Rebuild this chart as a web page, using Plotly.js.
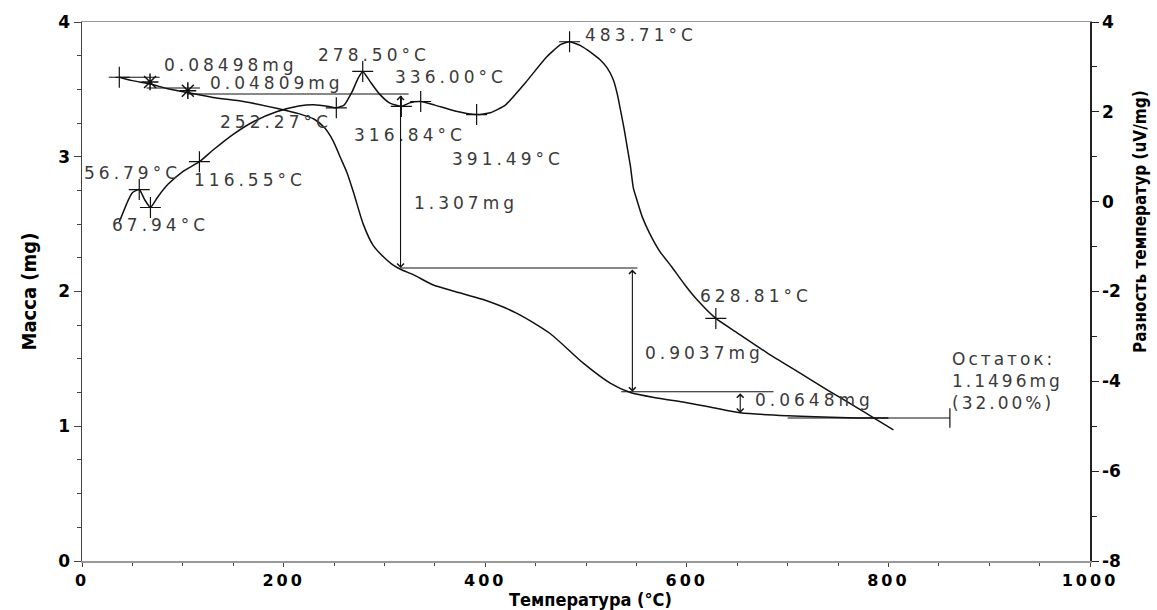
<!DOCTYPE html>
<html>
<head>
<meta charset="utf-8">
<script src="https://cdn.plot.ly/plotly-3.0.1.min.js"></script>
<style>
html,body{margin:0;padding:0;background:#fff;}
#chart{width:1157px;height:610px;}
</style>
</head>
<body>
<div id="chart"></div>
<script>
// ---- TG curve (mass, left axis) ----
var tgT    = [37, 50, 67.5, 85, 105, 130, 160, 193, 215, 230, 240, 249, 256, 263, 270, 279, 289, 300, 308, 316, 330, 348, 370, 398, 431, 464, 497, 524, 544, 570, 596, 625, 653, 700, 760, 800];
var tgMass = [3.59, 3.565, 3.54, 3.505, 3.475, 3.44, 3.41, 3.36, 3.32, 3.28, 3.22, 3.12, 3.0, 2.88, 2.72, 2.5, 2.34, 2.25, 2.2, 2.165, 2.12, 2.05, 2.0, 1.94, 1.84, 1.69, 1.47, 1.32, 1.25, 1.21, 1.18, 1.14, 1.1, 1.078, 1.064, 1.061];

// ---- DTA curve (right axis) ----
var dtaT = [37, 46, 50, 56.8, 62, 67.9, 75, 85, 100, 116.5, 130, 150, 170, 193, 215, 230, 245, 252.3, 260, 268, 274, 278.5, 285, 295, 305, 316.8, 325, 336, 350, 370, 391.5, 405, 420, 440, 460, 475, 483.7, 495, 505, 514, 521, 527, 531, 535, 538, 541, 544, 547, 551, 556, 563, 573, 585, 598, 610, 628.8, 650, 680, 712, 740, 770, 785, 805];
var dtaV = [-0.45, 0.04, 0.2, 0.27, 0.05, -0.13, 0.1, 0.38, 0.67, 0.89, 1.15, 1.5, 1.78, 2.0, 2.13, 2.16, 2.12, 2.09, 2.15, 2.45, 2.75, 2.9, 2.7, 2.4, 2.2, 2.12, 2.2, 2.23, 2.15, 2.02, 1.94, 1.98, 2.15, 2.65, 3.2, 3.5, 3.56, 3.47, 3.32, 3.16, 2.98, 2.72, 2.4, 1.95, 1.6, 1.2, 0.8, 0.3, 0.0, -0.35, -0.7, -1.1, -1.45, -1.85, -2.18, -2.6, -2.92, -3.37, -3.81, -4.2, -4.6, -4.81, -5.08];

// ---- DTA peak markers ----
var peakT = [56.8, 67.9, 116.5, 252.3, 278.5, 316.8, 336, 391.5, 483.7, 628.8];
var peakV = [0.27, -0.13, 0.89, 2.09, 2.9, 2.12, 2.23, 1.94, 3.56, -2.6];

// ---- TG step markers ----
var startT = [37];
var startMass = [3.59];
var starT = [67.5, 105];
var starMass = [3.555, 3.49];

// ---- TG reference (tangent) lines ----
var refT    = [33, 77, null, 64, 117, null, 104, 324, null, 316, 551, null, 535, 686, null, 700, 861];
var refMass = [3.59, 3.59, null, 3.51, 3.51, null, 3.466, 3.466, null, 2.174, 2.174, null, 1.256, 1.256, null, 1.061, 1.061];
var residueEndT = [861];
var residueEndMass = [1.061];

// ---- mass-loss arrows ----
var stepT      = [316, 546, 653];
var stepTop    = [3.466, 2.174, 1.256];
var stepBottom = [2.174, 1.256, 1.098];

// ---- text labels ----
var labelText = ['0.08498mg', '278.50°C', '0.04809mg', '336.00°C', '483.71°C', '252.27°C', '316.84°C', '391.49°C', '56.79°C', '116.55°C', '67.94°C', '1.307mg', '628.81°C', '0.9037mg', '0.0648mg'];
var labelT    = [79, 232, 125, 309, 497, 135, 268, 365, 0, 109, 28, 327, 611, 557, 666];
var labelMass = [3.68, 3.755, 3.55, 3.59, 3.90, 3.26, 3.16, 2.98, 2.88, 2.83, 2.49, 2.66, 1.97, 1.54, 1.195];
var residueLines = ['Остаток:', '1.1496mg', '(32.00%)'];
var residueT = 861, residueMass = 1.336;

// ---- axis ticks ----
var xTickVals = [0, 200, 400, 600, 800, 1000];
var xTickText = ['0', '200', '400', '600', '800', '1000'];
var yTickVals = [0, 1, 2, 3, 4];
var y2TickVals = [-8, -6, -4, -2, 0, 2, 4];
var y2TickText = ['-8', '-6', '-4', '-2', '0', '2', '4'];

var xTitle = 'Температура (°C)';
var yTitle = 'Масса (mg)';
var y2Title = 'Разность температур (uV/mg)';

function sp(t, s) { return '<span style="letter-spacing:' + s + 'px">' + t + '</span>'; }

var LINE = '#111';
var TXT = '#3a3a3a';
var LBLFONT = {family: 'DejaVu Sans, Liberation Sans, sans-serif', size: 17, color: TXT};
var AXFONT = {family: 'DejaVu Sans, Liberation Sans, sans-serif', size: 17, color: '#000', weight: 'bold'};
var XAXFONT = {family: 'DejaVu Sans, Liberation Sans, sans-serif', size: 16, color: '#000', weight: 'bold'};
var TITLEFONT = {family: 'Liberation Sans Narrow, DejaVu Sans Condensed, Liberation Sans, sans-serif', size: 20, color: '#000', weight: 'bold'};

var traces = [
  {x: tgT, y: tgMass, mode: 'lines', line: {color: LINE, width: 1.5, shape: 'spline', smoothing: 0.7}, yaxis: 'y', hoverinfo: 'skip'},
  {x: dtaT, y: dtaV, mode: 'lines', line: {color: LINE, width: 1.5, shape: 'spline', smoothing: 0.5}, yaxis: 'y2', hoverinfo: 'skip'},
  {x: refT, y: refMass, mode: 'lines', line: {color: LINE, width: 1.1}, yaxis: 'y', connectgaps: false, hoverinfo: 'skip'},
  {x: peakT, y: peakV, mode: 'markers', yaxis: 'y2', marker: {symbol: 'cross-thin-open', size: 15, color: LINE, line: {color: LINE, width: 1.2}}, hoverinfo: 'skip'},
  {x: startT, y: startMass, mode: 'markers', yaxis: 'y', marker: {symbol: 'cross-thin-open', size: 15, color: LINE, line: {color: LINE, width: 1.2}}, hoverinfo: 'skip'},
  {x: starT, y: starMass, mode: 'markers', yaxis: 'y', marker: {symbol: 'asterisk-open', size: 14, color: LINE, line: {color: LINE, width: 1.5}}, hoverinfo: 'skip'},
  {x: residueEndT, y: residueEndMass, mode: 'markers', yaxis: 'y', marker: {symbol: 'line-ns-open', size: 14, color: LINE, line: {color: LINE, width: 1.2}}, hoverinfo: 'skip'}
];

var annotations = [];
for (var i = 0; i < labelText.length; i++) {
  annotations.push({x: labelT[i], y: labelMass[i], xref: 'x', yref: 'y', text: sp(labelText[i], 4),
    showarrow: false, xanchor: 'left', yanchor: 'middle', font: LBLFONT});
}
annotations.push({x: residueT, y: residueMass, xref: 'x', yref: 'y',
  text: residueLines.map(function (s) { return sp(s, 3); }).join('<br>'),
  showarrow: false, xanchor: 'left', yanchor: 'middle', align: 'left', font: LBLFONT});
for (var j = 0; j < stepT.length; j++) {
  annotations.push({x: stepT[j], y: stepBottom[j], ax: stepT[j], ay: stepTop[j], xref: 'x', yref: 'y', axref: 'x', ayref: 'y',
    text: '', showarrow: true, arrowhead: 4, startarrowhead: 4, arrowside: 'end+start', arrowsize: 1.2, startarrowsize: 1.2,
    arrowwidth: 1.1, arrowcolor: LINE, standoff: 0, startstandoff: 0});
}
annotations.push({x: 1, y: (561 - 222) / 539, xref: 'paper', yref: 'paper', xshift: 50, text: y2Title, textangle: -90,
  showarrow: false, xanchor: 'center', yanchor: 'middle', font: {family: TITLEFONT.family, size: 17, color: '#000', weight: 'bold'}});
annotations.push({x: (590 - 82) / 1008, y: 0, xref: 'paper', yref: 'paper', yshift: -38, text: xTitle,
  showarrow: false, xanchor: 'center', yanchor: 'middle', font: {family: TITLEFONT.family, size: 18, color: '#000', weight: 'bold'}});

var layout = {
  width: 1157, height: 610,
  margin: {l: 82, r: 67, t: 22, b: 49},
  paper_bgcolor: '#fff', plot_bgcolor: '#fff',
  showlegend: false,
  xaxis: {
    range: [0, 1000], tickmode: 'array', tickvals: xTickVals, ticktext: xTickText.map(function (s) { return sp(s, 3); }),
    ticks: 'outside', ticklen: 4, tickcolor: '#444', showline: true, linecolor: '#999', linewidth: 1.5, mirror: true,
    showgrid: false, zeroline: false, tickfont: XAXFONT,
    minor: {dtick: 50, ticks: 'outside', ticklen: 3, tickcolor: '#444', showgrid: false}
  },
  yaxis: {
    range: [0, 4], tickvals: yTickVals, tickmode: 'array',
    ticks: 'outside', ticklen: 7, tickcolor: '#444', showline: true, linecolor: '#444', linewidth: 1.5,
    showgrid: false, zeroline: false, tickfont: AXFONT,
    minor: {dtick: 0.25, ticks: 'outside', ticklen: 4, tickcolor: '#444', showgrid: false},
    title: {text: yTitle, font: TITLEFONT, standoff: 16}
  },
  yaxis2: {
    range: [-8, 4], overlaying: 'y', side: 'right', tickmode: 'array', tickvals: y2TickVals, ticktext: y2TickText,
    ticks: 'outside', ticklen: 7, tickcolor: '#222', showline: true, linecolor: '#222', linewidth: 1.5,
    showgrid: false, zeroline: false, tickfont: AXFONT,
    minor: {dtick: 1, ticks: 'outside', ticklen: 5, tickcolor: '#222', showgrid: false}
  },
  annotations: annotations
};

Plotly.newPlot('chart', traces, layout, {displayModeBar: false, staticPlot: true});
</script>
</body>
</html>
